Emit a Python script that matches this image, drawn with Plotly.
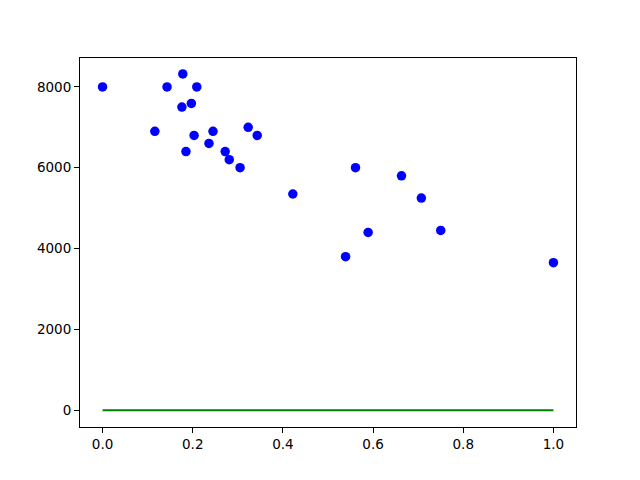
import plotly.graph_objects as go

# scatter values
x_vals = [0.0, 0.143, 0.178, 0.209, 0.176, 0.197, 0.116, 0.203, 0.245, 0.323,
          0.343, 0.236, 0.185, 0.272, 0.281, 0.305, 0.422, 0.561, 0.663, 0.707,
          0.589, 0.750, 0.539, 1.0]
y_vals = [8000, 8000, 8320, 8000, 7500, 7590, 6900, 6800, 6900, 7000,
          6800, 6600, 6400, 6400, 6200, 6000, 5350, 6000, 5800, 5250,
          4400, 4450, 3800, 3650]

# green line along zero
line_x = [0.0, 1.0]
line_y = [0, 0]

fig = go.Figure()

fig.add_trace(go.Scatter(
    x=line_x, y=line_y, mode='lines',
    line=dict(color='green', width=2),
    showlegend=False
))

fig.add_trace(go.Scatter(
    x=x_vals, y=y_vals, mode='markers',
    marker=dict(color='blue', size=9.5, line=dict(width=0)),
    showlegend=False
))

axis_style = dict(
    showgrid=False, zeroline=False,
    showline=True, linecolor='black', linewidth=1, mirror=True,
    ticks='outside', ticklen=5, tickwidth=1, tickcolor='black',
    tickfont=dict(family='DejaVu Sans', size=13.5, color='black'),
)

fig.update_xaxes(range=[-0.05, 1.05], tickvals=[0, 0.2, 0.4, 0.6, 0.8, 1.0],
                 ticktext=['0.0', '0.2', '0.4', '0.6', '0.8', '1.0'], **axis_style)
fig.update_yaxes(range=[-415, 8715], tickvals=[0, 2000, 4000, 6000, 8000],
                 ticktext=['0', '2000', '4000', '6000', '8000'], **axis_style)

# page body has an 8px margin, so offset the plot area by that much
fig.update_layout(
    width=640, height=480,
    margin=dict(l=72, r=72, t=50, b=61),
    plot_bgcolor='white', paper_bgcolor='white',
    font=dict(family='DejaVu Sans', color='black'),
)

fig.write_html("out.html")
